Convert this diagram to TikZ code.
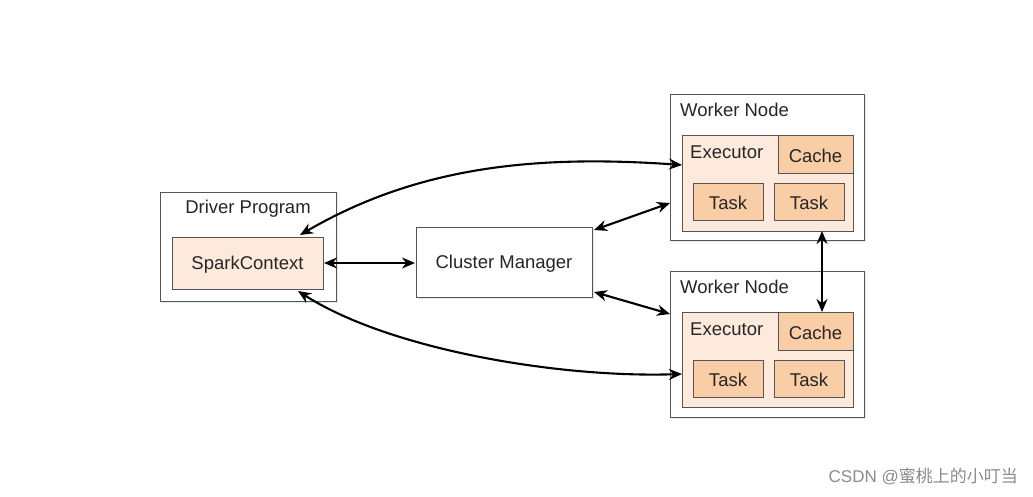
\documentclass[tikz,border=0pt]{standalone}
\usepackage{fontspec}
\setmainfont{Liberation Sans}
\newfontfamily\cjk{Noto Sans CJK SC}
\usetikzlibrary{arrows.meta,shadows}
\definecolor{bordc}{HTML}{555555}
\definecolor{lightpeach}{HTML}{FDEADC}
\definecolor{peach}{HTML}{F9CDA6}
\tikzset{
  box/.style={draw=bordc, line width=0.9pt, fill=white, drop shadow={opacity=0.18, shadow xshift=1.5pt, shadow yshift=-1.5pt}},
  inbox/.style={draw=bordc, line width=0.8pt},
  lbl/.style={font=\fontsize{18.5}{21}\selectfont, text=black!85, inner sep=0pt},
  conn/.style={line width=2.1pt, {Stealth[length=13pt,width=11pt]}-{Stealth[length=13pt,width=11pt]}}
}
\begin{document}
\begin{tikzpicture}[x=1pt,y=-1pt]
\useasboundingbox (0,0) rectangle (1033,497);
\fill[white] (0,0) rectangle (1033,497);
% Driver program
\draw[box] (160,192) rectangle (336,301);
\node[lbl] (dp) at (248,209) {Driver Program};
\draw[inbox, fill=lightpeach] (172,237) rectangle (323,289);
\coordinate (scT) at (300,235);
\coordinate (scB) at (298,291);
\coordinate (scR) at (324,263);
\node[lbl] (sc) at (247.5,265) {SparkContext};
% Cluster manager
\draw[box] (416,227) rectangle (592,297);
\node[lbl] (cm) at (504,264) {Cluster Manager};
\coordinate (cmL) at (415,263);
\coordinate (cmTR) at (594,230);
\coordinate (cmBR) at (594,292);
% Worker 1
\draw[box] (670,94) rectangle (864,240);
\node[lbl, anchor=west] (w1) at (680,110) {Worker Node};
\draw[inbox, fill=lightpeach] (682,135) rectangle (853,231);
\draw[inbox, fill=peach] (778,135) rectangle (853,173);
\node[lbl, anchor=west] (e1) at (690,152) {Executor};
\node[lbl] (c1) at (815.5,156) {Cache};
\draw[inbox, fill=peach] (693,183) rectangle (763,220);
\draw[inbox, fill=peach] (774,183) rectangle (844,220);
\node[lbl] (t1a) at (728,203) {Task};
\node[lbl] (t1b) at (809,203) {Task};
\coordinate (w1L) at (682,165);
\coordinate (w1Lb) at (670,203);
\coordinate (w1B) at (822,231);
% Worker 2
\draw[box] (670,271) rectangle (864,417);
\node[lbl, anchor=west] (w2) at (680,287) {Worker Node};
\draw[inbox, fill=lightpeach] (682,312) rectangle (853,407);
\draw[inbox, fill=peach] (778,312) rectangle (853,350);
\node[lbl, anchor=west] (e2) at (690,329) {Executor};
\node[lbl] (c2) at (815.5,333) {Cache};
\draw[inbox, fill=peach] (693,360) rectangle (763,397);
\draw[inbox, fill=peach] (774,360) rectangle (844,397);
\node[lbl] (t2a) at (728,380) {Task};
\node[lbl] (t2b) at (809,380) {Task};
\coordinate (w2T) at (670,314);
\coordinate (w2L) at (682,374);
\coordinate (w2C) at (822,312);
% connectors
\draw[conn] (scR) -- (cmL);
\draw[conn] (scT) .. controls (420,165) and (540,155) .. (w1L);
\draw[conn] (scB) .. controls (390,350) and (560,378) .. (w2L);
\draw[conn] (cmTR) -- (w1Lb);
\draw[conn] (cmBR) -- (w2T);
\draw[conn] (w1B) -- (w2C);
% watermark
\node[font=\fontsize{17}{20}\selectfont, text=black!45, anchor=east, inner sep=0pt] (wm) at (1018,476) {CSDN @{\cjk 蜜桃上的小叮当}};
\end{tikzpicture}
\end{document}
